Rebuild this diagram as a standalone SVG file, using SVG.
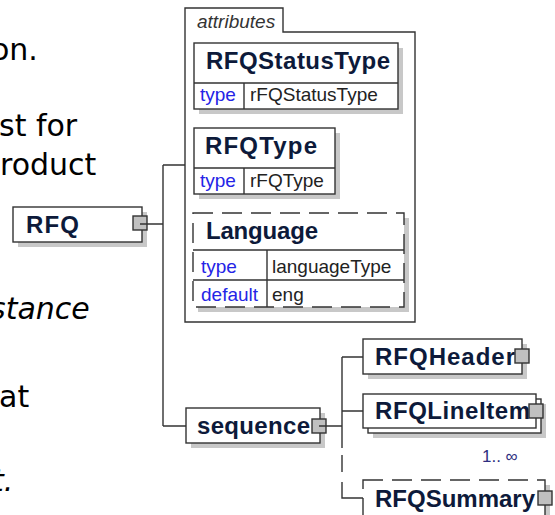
<svg xmlns="http://www.w3.org/2000/svg" width="555" height="515" viewBox="0 0 555 515">
<style>
.doc{font-family:"DejaVu Sans",Verdana,sans-serif;font-size:30px;fill:#000}
.it{font-style:italic}
.box{fill:#fff;stroke:#333;stroke-width:1.4}
.wh{fill:#fff}
.dash{fill:none;stroke:#333;stroke-width:1.4;stroke-dasharray:20 9}
.sh{fill:#c8c8c8}
.sq{fill:#c0c0c0;stroke:#333;stroke-width:1.4}
.nm{font-family:"Liberation Sans",Arial,sans-serif;font-weight:bold;font-size:24px;fill:#0d1a3a}
.lb{font-family:"Liberation Sans",Arial,sans-serif;font-size:19px;fill:#222}
.key{fill:#2424e6}
.ln{fill:none;stroke:#333;stroke-width:1.4}
.occ{font-family:"Liberation Sans",Arial,sans-serif;font-size:17px;fill:#2e2e80}
</style>
<rect width="555" height="515" fill="#fff"/>
<g id="page-text" class="doc">
<text x="-9" y="60">on.</text>
<text x="-1" y="136">st for</text>
<text x="0" y="175">roduct</text>
<text class="it" x="-10" y="319">stance</text>
<text x="-1" y="407">at</text>
<text class="it" x="-8" y="491">t.</text>
</g>
<g id="node-RFQ">
<rect class="sh" x="18" y="212" width="129" height="35"/>
<rect class="box" x="13" y="207" width="129" height="35"/>
<text class="nm" x="26" y="233" textLength="53">RFQ</text>
<rect class="sq" x="133" y="216" width="14" height="14"/>
</g>
<g id="node-attributes">
<path class="box" d="M185,322 V8 H283 V32 H415 V322 Z"/>
<text class="lb it" x="197" y="28" style="fill:#333">attributes</text>
</g>
<g id="node-RFQStatusType">
<rect class="sh" x="199" y="48" width="204" height="66"/>
<rect class="box" x="194" y="43" width="204" height="66"/>
<path class="ln" d="M194,83 H398 M244,83 V109"/>
<text class="nm" x="206" y="69" textLength="184">RFQStatusType</text>
<text class="lb key" x="200" y="101">type</text>
<text class="lb" x="250" y="101">rFQStatusType</text>
</g>
<g id="node-RFQType">
<rect class="sh" x="199" y="133" width="141" height="66"/>
<rect class="box" x="194" y="128" width="141" height="66"/>
<path class="ln" d="M194,168 H335 M244,168 V194"/>
<text class="nm" x="205" y="154" textLength="112">RFQType</text>
<text class="lb key" x="200" y="187">type</text>
<text class="lb" x="250" y="187">rFQType</text>
</g>
<g id="node-Language">
<rect class="sh" x="198" y="218" width="211" height="94"/>
<rect class="wh" x="193" y="213" width="211" height="94"/>
<rect class="dash" x="193" y="213" width="211" height="94"/>
<path class="ln" d="M193,250 H404 M193,280 H404 M267,250 V307"/>
<text class="nm" x="206" y="239" textLength="112">Language</text>
<text class="lb key" x="201" y="273">type</text>
<text class="lb" x="272" y="273">languageType</text>
<text class="lb key" x="201" y="301">default</text>
<text class="lb" x="272" y="301">eng</text>
</g>
<g id="node-sequence">
<rect class="sh" x="191" y="413" width="134" height="35"/>
<rect class="box" x="186" y="408" width="134" height="35"/>
<text class="nm" x="197" y="434" textLength="113">sequence</text>
<rect class="sq" x="312" y="419" width="14" height="14"/>
</g>
<g id="node-RFQHeader">
<rect class="sh" x="368" y="344" width="159" height="35"/>
<rect class="box" x="363" y="339" width="159" height="35"/>
<text class="nm" x="375" y="365" textLength="140">RFQHeader</text>
<rect class="sq" x="515" y="349" width="14" height="14"/>
</g>
<g id="node-RFQLineItem">
<rect class="sh" x="373" y="404" width="173" height="34"/>
<rect class="box" x="368" y="399" width="173" height="34"/>
<rect class="box" x="363" y="394" width="173" height="34"/>
<text class="nm" x="375" y="419" textLength="155">RFQLineItem</text>
<rect class="sq" x="529" y="404" width="14" height="14"/>
<text class="occ" x="482" y="462">1.. ∞</text>
</g>
<g id="node-RFQSummary">
<rect class="sh" x="368" y="485" width="182" height="40"/>
<rect class="wh" x="363" y="480" width="182" height="40"/>
<rect class="dash" x="363" y="480" width="182" height="40"/>
<text class="nm" x="375" y="507" textLength="160">RFQSummary</text>
<rect class="sq" x="538" y="491" width="14" height="14"/>
</g>
<g id="connectors">
<path class="ln" d="M140,224 H163 M163,165 V426 M163,165 H185 M163,426 H186"/>
<path class="ln" d="M319,426 H342 M342,357 V448 M342,357 H363 M342,411 H363"/>
<path class="ln" d="M342,455 V472 M342,482 V498 H363"/>
</g>
</svg>
